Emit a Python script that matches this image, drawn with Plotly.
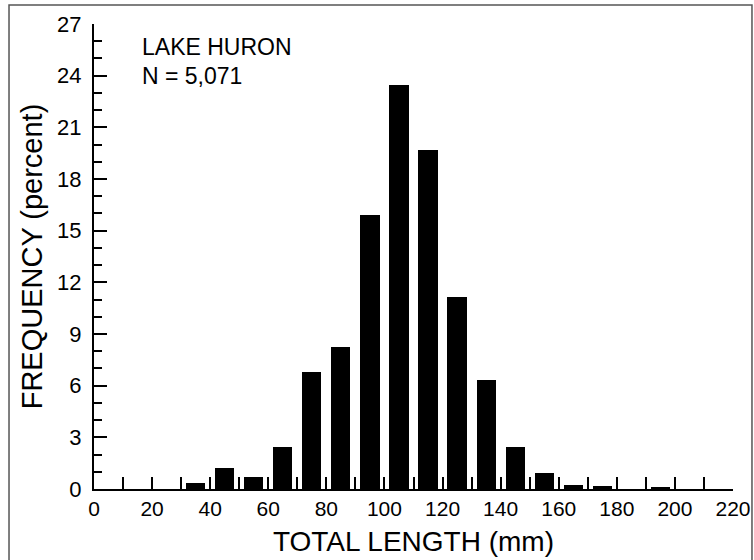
import plotly.graph_objects as go

# Bin midpoints (mm) and frequency (percent)
length_mid = [35, 45, 55, 65, 75, 85, 95, 105, 115, 125, 135, 145, 155, 165, 175, 185, 195, 205, 215]
freq_pct = [0.35, 1.24, 0.72, 2.42, 6.77, 8.23, 15.9, 23.46, 19.67, 11.13, 6.31, 2.46, 0.91, 0.25, 0.17, 0.0, 0.08, 0.0, 0.0]

x_ticks = list(range(0, 221, 20))
y_ticks = list(range(0, 28, 3))

FONT = "Liberation Sans, Arial, Helvetica, sans-serif"

fig = go.Figure()
fig.add_trace(go.Bar(
    x=length_mid, y=freq_pct, width=6.6,
    marker=dict(color="black", line=dict(width=0)),
    showlegend=False,
))

fig.update_layout(
    width=754, height=560,
    margin=dict(l=94, r=21, t=24, b=71, autoexpand=False),
    paper_bgcolor="white", plot_bgcolor="white",
    font=dict(family=FONT, color="black"),
    bargap=0,
)

fig.update_xaxes(
    range=[0, 220], tickvals=x_ticks, ticktext=[str(v) for v in x_ticks],
    showgrid=False, zeroline=False, automargin=False,
    showline=True, linecolor="black", linewidth=2,
    ticks="inside", ticklen=12, tickwidth=2, tickcolor="black",
    minor=dict(dtick=10, tick0=0, ticks="inside", ticklen=12, tickwidth=2, tickcolor="black", showgrid=False),
    tickfont=dict(size=21, family=FONT),
    title=dict(text="TOTAL LENGTH (mm)", font=dict(size=28, family=FONT), standoff=12),
)
fig.update_yaxes(
    range=[0, 27], tickvals=y_ticks, ticktext=[str(v) for v in y_ticks],
    showgrid=False, zeroline=False, automargin=False,
    showline=True, linecolor="black", linewidth=2,
    ticks="inside", ticklen=13, tickwidth=2, tickcolor="black",
    minor=dict(dtick=1, tick0=0, ticks="inside", ticklen=8, tickwidth=2, tickcolor="black", showgrid=False),
    tickfont=dict(size=22, family=FONT), ticklabelstandoff=6,
    title=dict(text="FREQUENCY (percent)", font=dict(size=29, family=FONT), standoff=6),
)

fig.add_annotation(x=0.072, y=0.9505, xref="paper", yref="paper", xanchor="left", yanchor="middle",
                   text="LAKE HURON", showarrow=False, font=dict(size=23, family=FONT))
fig.add_annotation(x=0.072, y=0.889, xref="paper", yref="paper", xanchor="left", yanchor="middle",
                   text="N = 5,071", showarrow=False, font=dict(size=23, family=FONT))

# outer frame
fig.add_shape(type="rect", xref="paper", yref="paper",
              x0=-0.133, x1=1.0297, y0=-0.2, y1=1.0409,
              line=dict(color="#555555", width=1.5), layer="below")

fig.write_html("out.html", config={"displayModeBar": False},
               post_script="document.body.style.margin='0';document.body.style.padding='0';")
